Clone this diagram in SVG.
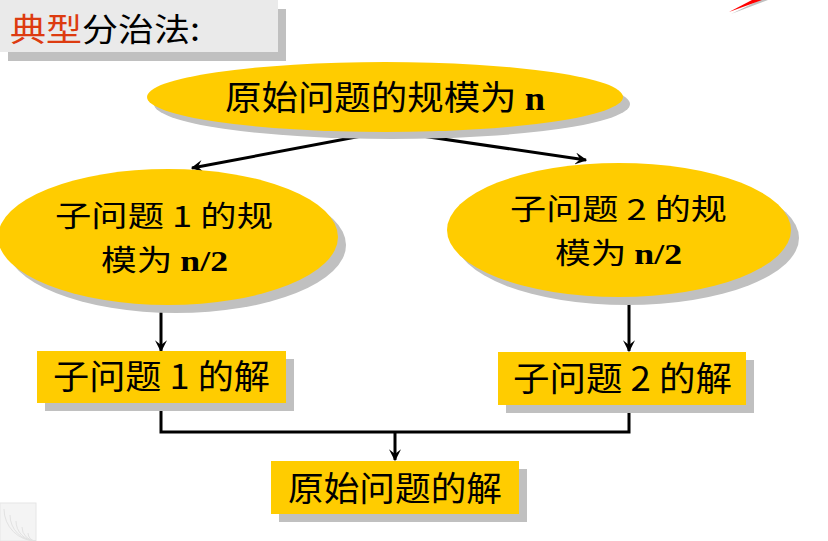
<svg xmlns="http://www.w3.org/2000/svg" width="828" height="541" viewBox="0 0 828 541">
<defs>
<style>
.sh{fill:#c0c0c0}
.y{fill:#ffcc00}
.t{font-family:"Noto Sans CJK SC","Liberation Serif",serif;font-size:34px;fill:#000}
.t2{font-size:29px}
.b{font-family:"Liberation Serif",serif;font-weight:bold}
.ln{stroke:#000;stroke-width:3;fill:none}
</style>
<marker id="ah" viewBox="0 0 10 10" refX="9" refY="5" markerWidth="4" markerHeight="4" orient="auto" markerUnits="strokeWidth">
<path d="M0,0 L10,5 L0,10 L4,5 z" fill="#000"/>
</marker>
</defs>
<rect width="828" height="541" fill="#fff"/>
<g id="title">
<rect x="8" y="9" width="278" height="52" class="sh"/>
<rect x="0" y="0" width="278" height="52" fill="#eaeaea"/>
<text x="10" y="41" class="t" style="font-size:32px" textLength="190" lengthAdjust="spacingAndGlyphs"><tspan fill="#dd3b10">典型</tspan>分治法:</text>
</g>
<g id="deco">
<path d="M731,14 L760,0 L768,0 Z" fill="#c0c0c0"/>
<path d="M729,12 L752,0 L762,0 Z" fill="#ff0000"/>
<rect x="0" y="503" width="36" height="38" fill="#f4f4f4" stroke="#e6e6e6"/>
<g fill="none" stroke="#e2e2e2" stroke-width="1">
<path d="M36,541 A8,8 0 0 1 28,533"/>
<path d="M36,541 A14,14 0 0 1 22,527"/>
<path d="M36,541 A20,20 0 0 1 16,521"/>
<path d="M36,541 A26,26 0 0 1 10,515"/>
<path d="M36,541 A32,32 0 0 1 4,509"/>
</g>
</g>
<g id="connectors">
<line x1="388" y1="131" x2="192" y2="168" class="ln" marker-end="url(#ah)"/>
<line x1="388" y1="131" x2="586" y2="160" class="ln" marker-end="url(#ah)"/>
<line x1="161" y1="300" x2="161" y2="351" class="ln" marker-end="url(#ah)"/>
<line x1="629" y1="298" x2="629" y2="351" class="ln" marker-end="url(#ah)"/>
<polyline points="161,403 161,432 629,432 629,405" class="ln"/>
<line x1="395" y1="432" x2="395" y2="460" class="ln" marker-end="url(#ah)"/>
</g>
<g id="n_root">
<ellipse cx="392" cy="104" rx="238" ry="35" class="sh"/>
<ellipse cx="385" cy="97" rx="238" ry="35" class="y"/>
<text x="225" y="110" class="t" textLength="320" lengthAdjust="spacingAndGlyphs">原始问题的规模为 <tspan class="b">n</tspan></text>
</g>
<g id="n_sub1">
<ellipse cx="176" cy="245" rx="170" ry="68" class="sh"/>
<ellipse cx="168" cy="237" rx="170" ry="68" class="y"/>
<text x="55" y="227" class="t t2" textLength="218" lengthAdjust="spacingAndGlyphs">子问题 1 的规</text>
<text x="101" y="271" class="t t2" textLength="127" lengthAdjust="spacingAndGlyphs">模为 <tspan class="b">n/2</tspan></text>
</g>
<g id="n_sub2">
<ellipse cx="627" cy="238" rx="172" ry="67" class="sh"/>
<ellipse cx="619" cy="230" rx="172" ry="67" class="y"/>
<text x="510" y="220" class="t t2" textLength="217" lengthAdjust="spacingAndGlyphs">子问题 2 的规</text>
<text x="555" y="264" class="t t2" textLength="127" lengthAdjust="spacingAndGlyphs">模为 <tspan class="b">n/2</tspan></text>
</g>
<g id="n_sol1">
<rect x="45" y="359" width="249" height="52" class="sh"/>
<rect x="37" y="351" width="249" height="52" class="y"/>
<text x="53" y="389" class="t" textLength="217" lengthAdjust="spacingAndGlyphs">子问题 1 的解</text>
</g>
<g id="n_sol2">
<rect x="506" y="360" width="248" height="53" class="sh"/>
<rect x="498" y="352" width="248" height="53" class="y"/>
<text x="513" y="391" class="t" textLength="219" lengthAdjust="spacingAndGlyphs">子问题 2 的解</text>
</g>
<g id="n_final">
<rect x="279" y="469" width="248" height="53" class="sh"/>
<rect x="271" y="461" width="248" height="53" class="y"/>
<text x="288" y="501" class="t" textLength="214" lengthAdjust="spacingAndGlyphs">原始问题的解</text>
</g>
</svg>
